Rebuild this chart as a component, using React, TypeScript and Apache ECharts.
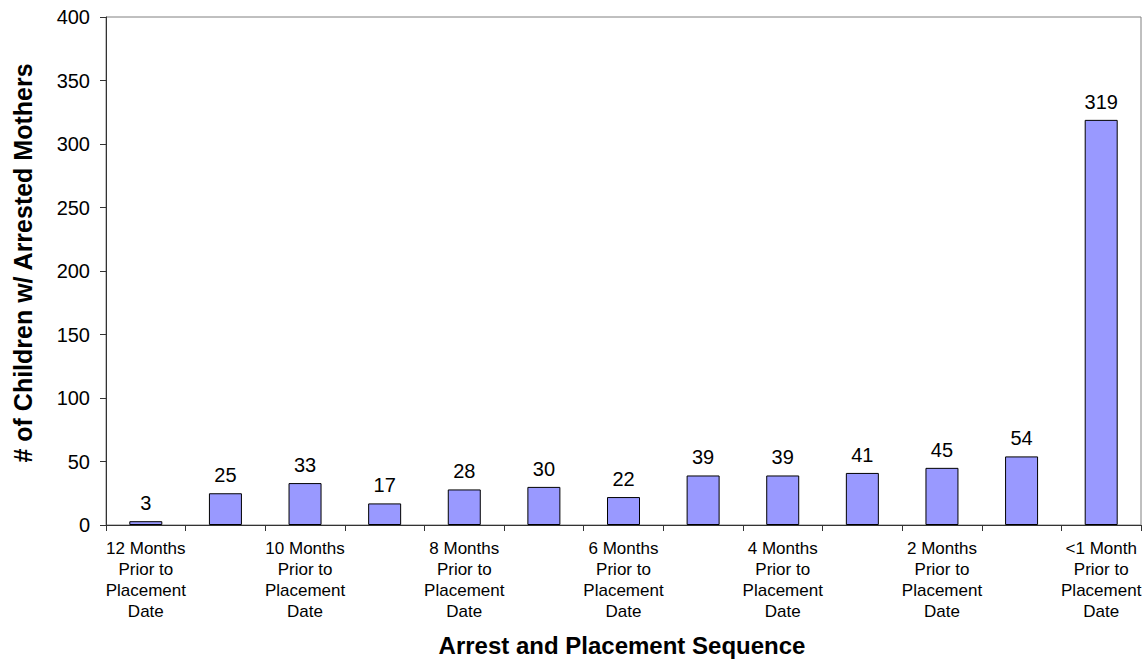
import React, { useEffect, useRef } from 'react';
import * as echarts from 'echarts';

const months = ['12 Months', '11 Months', '10 Months', '9 Months', '8 Months', '7 Months', '6 Months', '5 Months', '4 Months', '3 Months', '2 Months', '1 Month', '<1 Month'];
const categories = months.map((m) => m + '\nPrior to\nPlacement\nDate');
const children = [3, 25, 33, 17, 28, 30, 22, 39, 39, 41, 45, 54, 319];
const yTicks = { min: 0, max: 400, interval: 50 };

const font = 'Liberation Sans, Arial, sans-serif';

const App: React.FC = () => {
  const chartRef = useRef<HTMLDivElement>(null);

  useEffect(() => {
    if (!chartRef.current) return;
    const chart = echarts.init(chartRef.current, null, { renderer: 'svg' });

    const option = {
      animation: false,
      backgroundColor: '#ffffff',
      textStyle: { fontFamily: font },
      grid: {
        left: 106,
        right: 7,
        top: 17,
        bottom: 138,
        show: true,
        borderColor: '#808080',
        borderWidth: 1
      },
      xAxis: {
        type: 'category',
        data: categories,
        boundaryGap: true,
        axisLine: { lineStyle: { color: '#333333', width: 1 } },
        axisTick: { show: true, interval: 0, length: 6, lineStyle: { color: '#333333' } },
        axisLabel: {
          interval: 1,
          margin: 13,
          fontSize: 17,
          lineHeight: 21,
          color: '#000000',
          fontFamily: font
        },
        splitLine: { show: false }
      },
      yAxis: {
        type: 'value',
        min: yTicks.min,
        max: yTicks.max,
        interval: yTicks.interval,
        axisLine: { show: true, lineStyle: { color: '#333333', width: 1 } },
        axisTick: { show: true, length: 6, lineStyle: { color: '#333333' } },
        axisLabel: { margin: 16, fontSize: 20, color: '#000000', fontFamily: font },
        splitLine: { show: false }
      },
      graphic: [
        {
          type: 'text',
          x: 23,
          y: 263,
          rotation: Math.PI / 2,
          style: {
            text: '# of Children w/ Arrested Mothers',
            fontSize: 25,
            fontWeight: 'bold',
            fontFamily: font,
            fill: '#000000',
            align: 'center',
            verticalAlign: 'middle'
          }
        },
        {
          type: 'text',
          x: 622,
          y: 645,
          style: {
            text: 'Arrest and Placement Sequence',
            fontSize: 24,
            fontWeight: 'bold',
            fontFamily: font,
            fill: '#000000',
            align: 'center',
            verticalAlign: 'middle'
          }
        }
      ],
      series: [
        {
          type: 'bar',
          data: children,
          barWidth: 33,
          itemStyle: { color: '#9999ff', borderColor: '#000000', borderWidth: 1 },
          label: {
            show: true,
            position: 'top',
            distance: 8,
            fontSize: 20,
            color: '#000000',
            fontFamily: font
          }
        }
      ]
    };

    chart.setOption(option);
    return () => {
      chart.dispose();
    };
  }, []);

  return (
    <div
      ref={chartRef}
      style={{ position: 'absolute', left: 0, top: 0, width: '1148px', height: '663px' }}
    ></div>
  );
};

export default App;
